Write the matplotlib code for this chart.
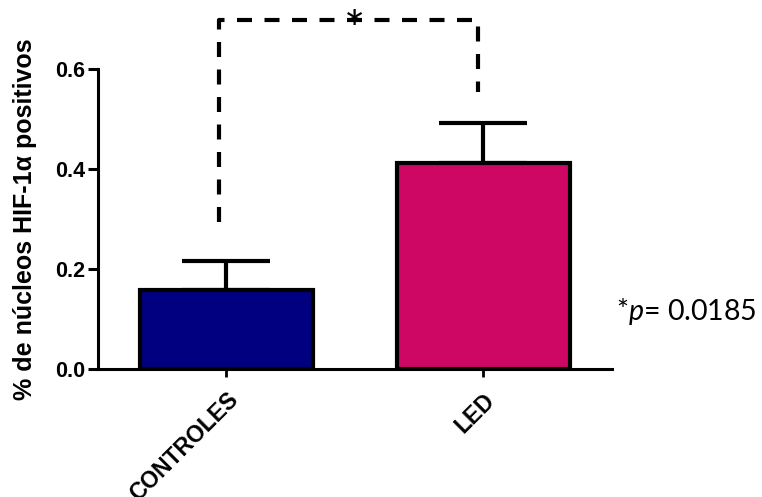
import numpy as np
import matplotlib
matplotlib.use('Agg')
from matplotlib import pyplot as plt

groups = ['CONTROLES', 'LED']
means = [0.158, 0.412]
sem = [0.058, 0.080]
bar_colors = ['#000080', '#CD0763']
y_ticks = [0.0, 0.2, 0.4, 0.6]
p_label = r'*$p$= 0.0185'

plt.rcParams['font.family'] = ['Liberation Sans', 'DejaVu Sans']
plt.rcParams['font.weight'] = 'bold'
plt.rcParams['mathtext.fontset'] = 'custom'
plt.rcParams['mathtext.rm'] = 'Lato:weight=normal'
plt.rcParams['mathtext.it'] = 'Lato:italic:weight=normal'

fig = plt.figure(figsize=(7.62, 4.97), dpi=100)
ax = fig.add_axes([0.1286, 0.2575, 0.6745, 0.6036])

x = np.arange(len(groups))

# upper error bars only, bars drawn on top so the stem starts at the bar edge
ax.errorbar(x, means, yerr=[np.zeros(len(sem)), sem], fmt='none',
            ecolor='black', elinewidth=3, capsize=31.7, capthick=3, zorder=1)
ax.bar(x, means, width=0.67, color=bar_colors, edgecolor='black',
       linewidth=3, zorder=2)

ax.set_xlim(-0.5, 1.5)
ax.set_ylim(0, 0.6)
ax.set_yticks(y_ticks)
ax.set_yticklabels([f'{v:.1f}' for v in y_ticks])
ax.set_xticks(x)
ax.set_xticklabels(groups, rotation=45, ha='right', va='top',
                   rotation_mode='anchor', fontsize=16.5)

for side in ['top', 'right']:
    ax.spines[side].set_visible(False)
for side in ['left', 'bottom']:
    ax.spines[side].set_linewidth(2.2)

ax.tick_params(axis='y', length=7.2, width=2.2, pad=2, labelsize=15.5)
ax.tick_params(axis='x', length=6, width=2, pad=8)

ax.set_ylabel('% de núcleos HIF-1α positivos', fontsize=18, fontweight='bold')
ax.yaxis.set_label_coords(-0.118, 0.5)

# significance bracket between the two groups
lx, rx = x[0] - 0.03, x[1] - 0.02
ax.plot([lx, lx, rx, rx], [0.294, 0.698, 0.698, 0.554], color='black',
        lw=3, linestyle=(0, (3.6, 3.0)), clip_on=False)
ax.text(0.5, 0.672, '*', ha='center', va='center', fontsize=36,
        fontweight='normal', family='Lato', clip_on=False)

fig.text(0.809, 0.356, p_label, family='Lato', fontweight='normal',
         fontsize=20.5, ha='left', va='baseline')

fig.savefig('out.png', dpi=100)
plt.close(fig)
